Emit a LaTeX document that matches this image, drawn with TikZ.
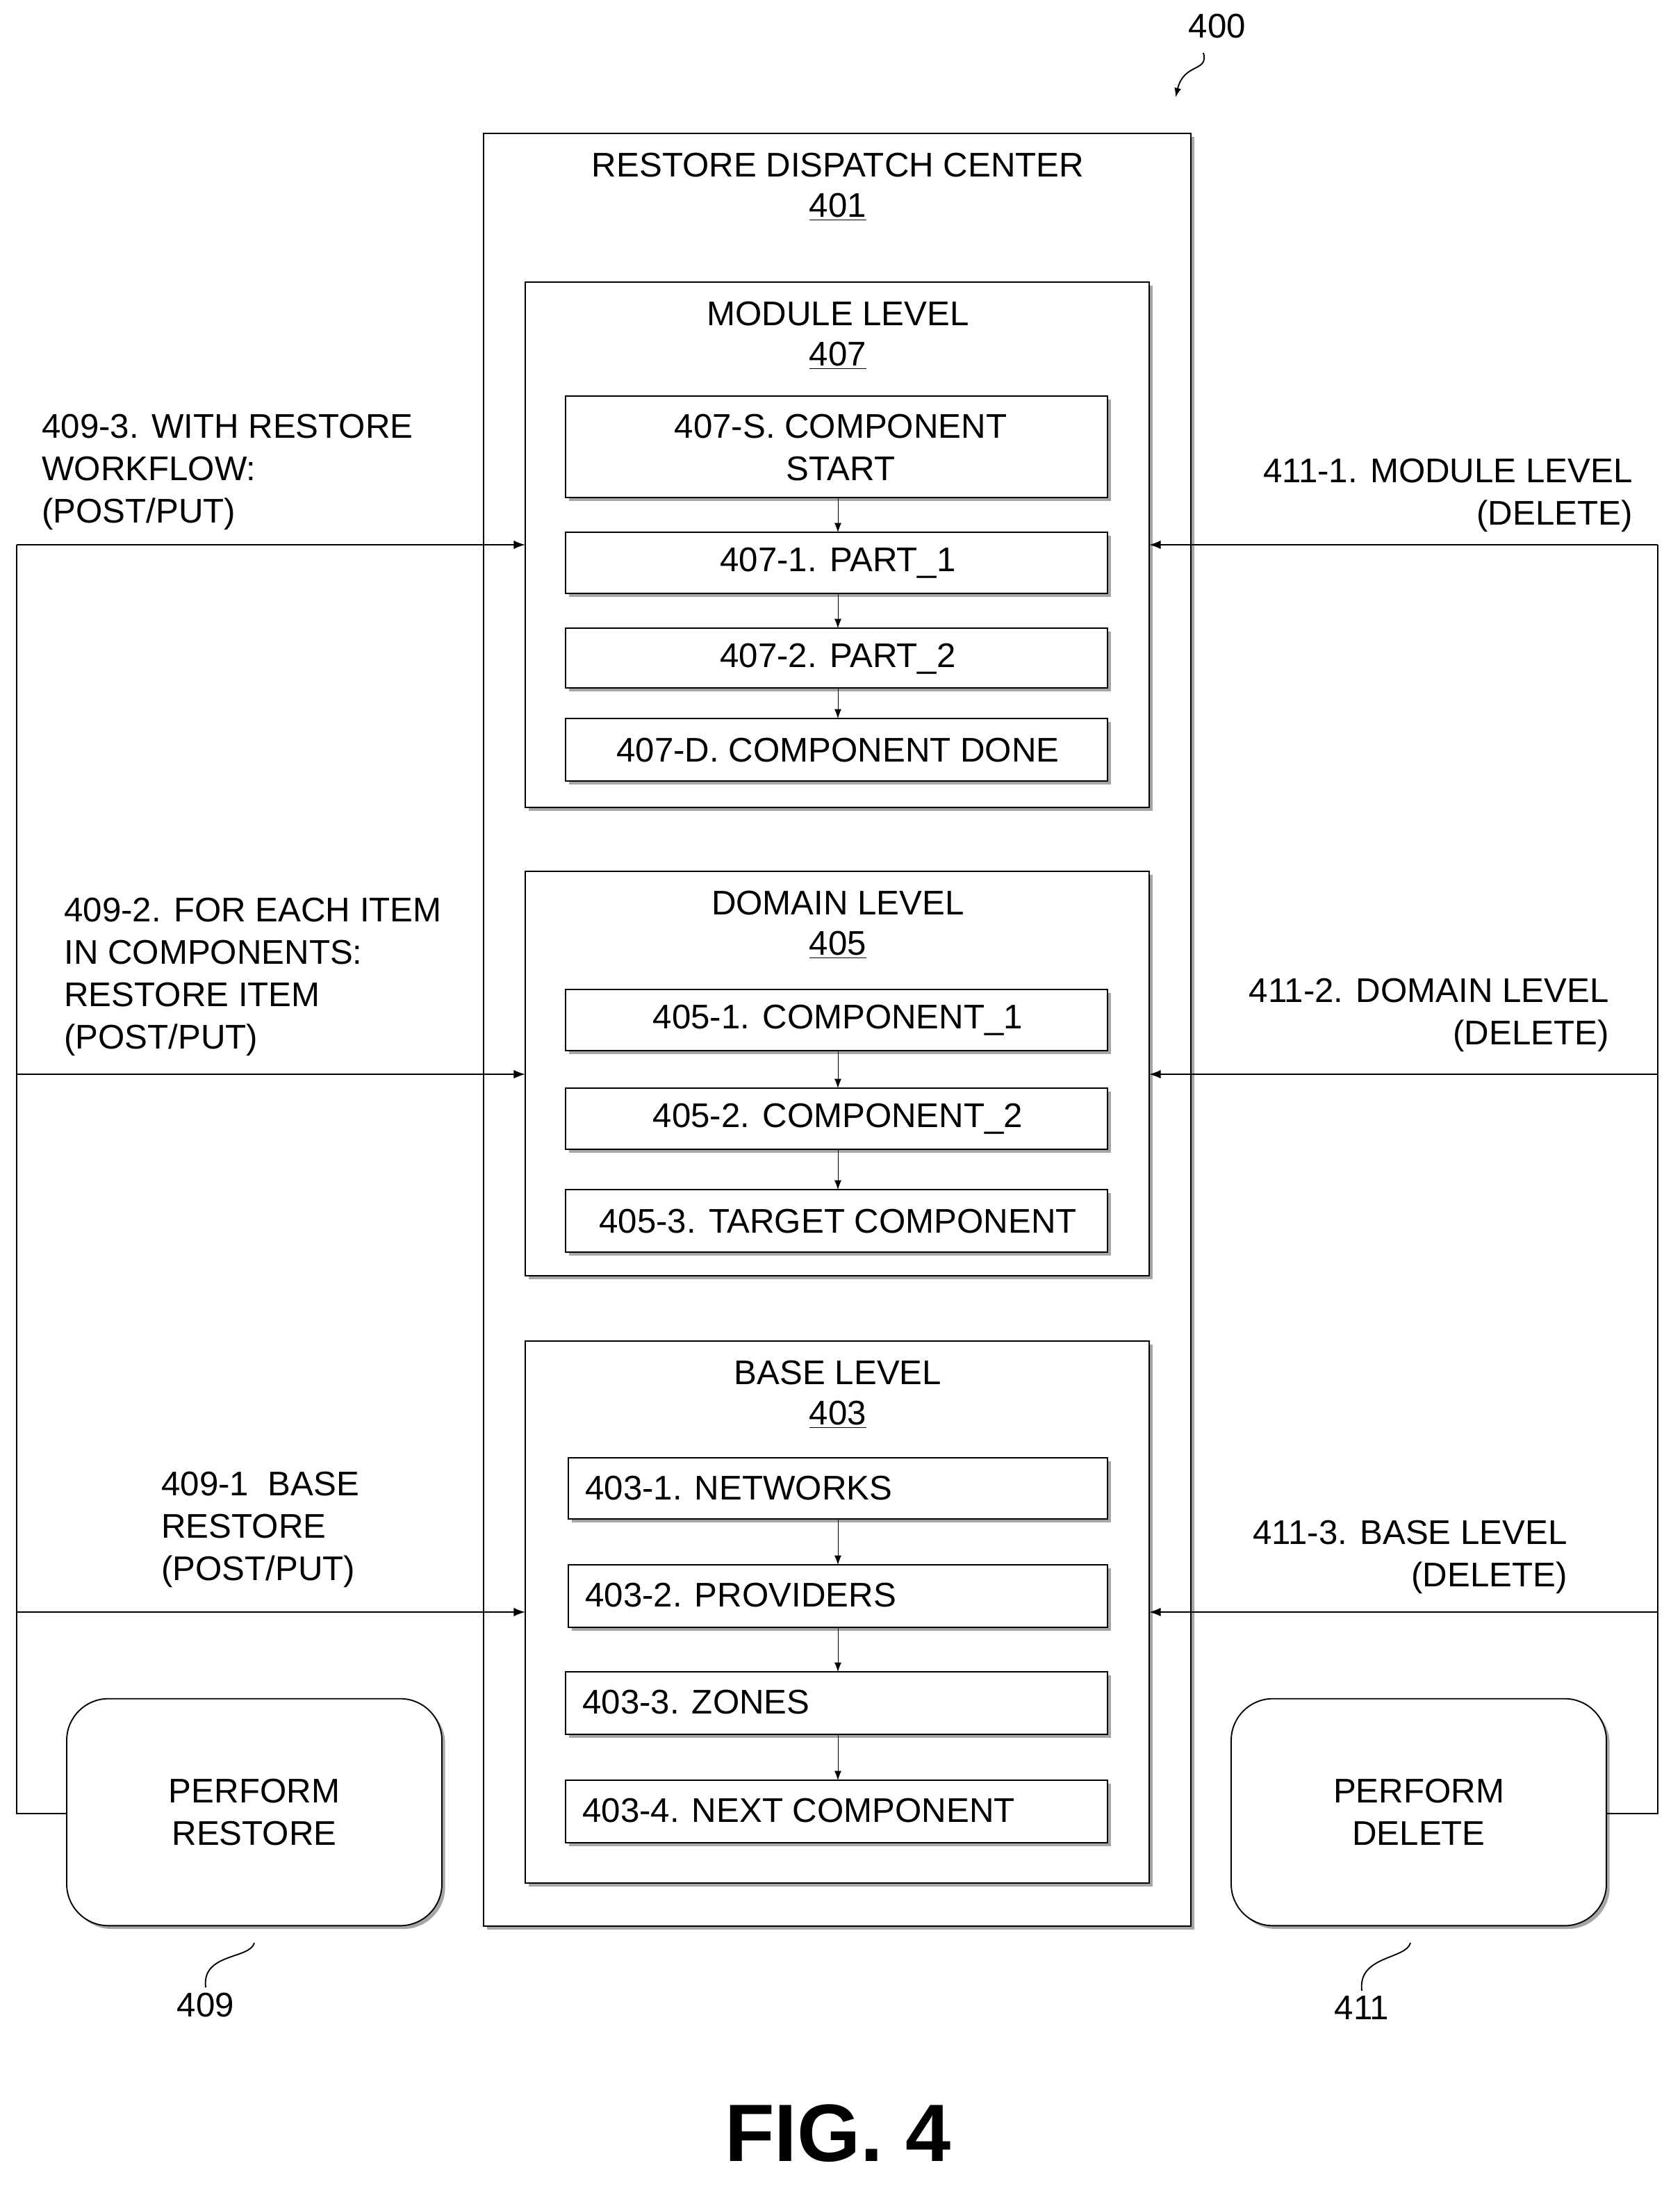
\documentclass[tikz,border=0pt]{standalone}
\usepackage{fontspec}
\setmainfont{Liberation Sans}
\usetikzlibrary{positioning, shapes, shadows}
\usetikzlibrary{arrows.meta}

\begin{document}
\begin{tikzpicture}[x=0.03cm,y=-0.03cm,font=\fontsize{21}{26}\selectfont]
    \tikzset{box/.style = {draw, thick, fill=white, drop shadow={shadow xshift=2pt, shadow yshift=-2pt, fill=gray!70, opacity=1}}}
    \tikzset{edge/.style = {-{Latex[length=2.5mm]}, thick}}
    \tikzset{flow/.style = {-{Latex[length=2mm]}}}
    \tikzset{lbl/.style = {align=left, anchor=north west, inner sep=0pt}}
    \tikzset{rlbl/.style = {align=right, anchor=north east, inner sep=0pt}}
    \useasboundingbox (0,0) rectangle (1209,1573);

    % restore dispatch center
    \draw[box] (348,96) rectangle (857,1386);
    \node (rdc) at (603,119) {RESTORE DISPATCH CENTER};
    \node (rdcn) at (603,149) {\underline{401}};

    % module level
    \draw[box] (378,203) rectangle (827,581);
    \node (mod) at (603,226) {MODULE LEVEL};
    \node at (603,256) {\underline{407}};
    \draw[box] (407,285) rectangle (797,358);
    \node[align=center] (ms) at (605,322) {407-S. COMPONENT\\START};
    \draw[box] (407,383) rectangle (797,427);
    \node (m1) at (603,405) {407-1. PART\_1};
    \draw[box] (407,452) rectangle (797,495);
    \node (m2) at (603,474) {407-2. PART\_2};
    \draw[box] (407,517) rectangle (797,562);
    \node (md) at (603,540) {407-D. COMPONENT DONE};
    \coordinate (a1) at (603,358); \coordinate (b1) at (603,383);
    \coordinate (a2) at (603,427); \coordinate (b2) at (603,452);
    \coordinate (a3) at (603,495); \coordinate (b3) at (603,517);
    \foreach \i in {1,2,3} \draw[flow] (a\i) -- (b\i);

    % domain level
    \draw[box] (378,627) rectangle (827,918);
    \node (dom) at (603,650) {DOMAIN LEVEL};
    \node at (603,680) {\underline{405}};
    \draw[box] (407,712) rectangle (797,756);
    \node (d1) at (603,734) {405-1. COMPONENT\_1};
    \draw[box] (407,783) rectangle (797,827);
    \node (d2) at (603,805) {405-2. COMPONENT\_2};
    \draw[box] (407,856) rectangle (797,901);
    \node (d3) at (603,879) {405-3. TARGET COMPONENT};
    \coordinate (c1) at (603,756); \coordinate (e1) at (603,783);
    \coordinate (c2) at (603,827); \coordinate (e2) at (603,856);
    \foreach \i in {1,2} \draw[flow] (c\i) -- (e\i);

    % base level
    \draw[box] (378,965) rectangle (827,1355);
    \node (base) at (603,988) {BASE LEVEL};
    \node at (603,1018) {\underline{403}};
    \draw[box] (409,1049) rectangle (797,1093);
    \node[anchor=west] (b1n) at (417,1071) {403-1. NETWORKS};
    \draw[box] (409,1126) rectangle (797,1171);
    \node[anchor=west] (b2n) at (417,1148) {403-2. PROVIDERS};
    \draw[box] (407,1203) rectangle (797,1248);
    \node[anchor=west] (b3n) at (415,1225) {403-3. ZONES};
    \draw[box] (407,1281) rectangle (797,1326);
    \node[anchor=west] (b4n) at (415,1303) {403-4. NEXT COMPONENT};
    \coordinate (f1) at (603,1093); \coordinate (g1) at (603,1126);
    \coordinate (f2) at (603,1171); \coordinate (g2) at (603,1203);
    \coordinate (f3) at (603,1248); \coordinate (g3) at (603,1281);
    \foreach \i in {1,2,3} \draw[flow] (f\i) -- (g\i);

    % perform restore / delete
    \node[box, rounded corners=0.9cm, minimum width=8.1cm, minimum height=4.9cm, align=center] (pr) at (183,1304) {PERFORM\\RESTORE};
    \node[box, rounded corners=0.9cm, minimum width=8.1cm, minimum height=4.9cm, align=center] (pd) at (1021,1304) {PERFORM\\DELETE};

    % restore lines
    \coordinate (l0) at (12,1305);
    \draw[thick] (pr.west |- l0) -- (l0) -- (12,392);
    \foreach \y in {392,773,1160} {
        \coordinate (ls) at (12,\y); \coordinate (le) at (378,\y);
        \draw[edge] (ls) -- (le);
    }
    % delete lines
    \coordinate (r0) at (1193,1305);
    \draw[thick] (pd.east |- r0) -- (r0) -- (1193,392);
    \foreach \y in {392,773,1160} {
        \coordinate (rs) at (1193,\y); \coordinate (re) at (827,\y);
        \draw[edge] (rs) -- (re);
    }

    % labels
    \node[lbl] (l3) at (30,298) {409-3. WITH RESTORE\\WORKFLOW:\\(POST/PUT)};
    \node[lbl] (l2) at (46,646) {409-2. FOR EACH ITEM\\IN COMPONENTS:\\RESTORE ITEM\\(POST/PUT)};
    \node[lbl] (l1) at (116,1059) {409-1\ \ BASE\\RESTORE\\(POST/PUT)};
    \node[rlbl] (r1) at (1175,330) {411-1. MODULE LEVEL\\(DELETE)};
    \node[rlbl] (r2) at (1158,704) {411-2. DOMAIN LEVEL\\(DELETE)};
    \node[rlbl] (r3) at (1128,1094) {411-3. BASE LEVEL\\(DELETE)};

    % reference numerals
    \node (n400) at (876,19) {400};
    \coordinate (t400) at (846,70);
    \draw[flow, thick] (866,38) .. controls (870,52) and (852,45) .. (t400);
    \node (n409) at (148,1443) {409};
    \draw[thick] (n409.north) .. controls (145,1405) and (180,1410) .. (183,1398);
    \node (n411) at (980,1445) {411};
    \draw[thick] (n411.north) .. controls (977,1407) and (1012,1410) .. (1015,1398);

    \node[font=\fontsize{50}{58}\selectfont\bfseries] (fig) at (603,1535) {FIG. 4};
\end{tikzpicture}
\end{document}
